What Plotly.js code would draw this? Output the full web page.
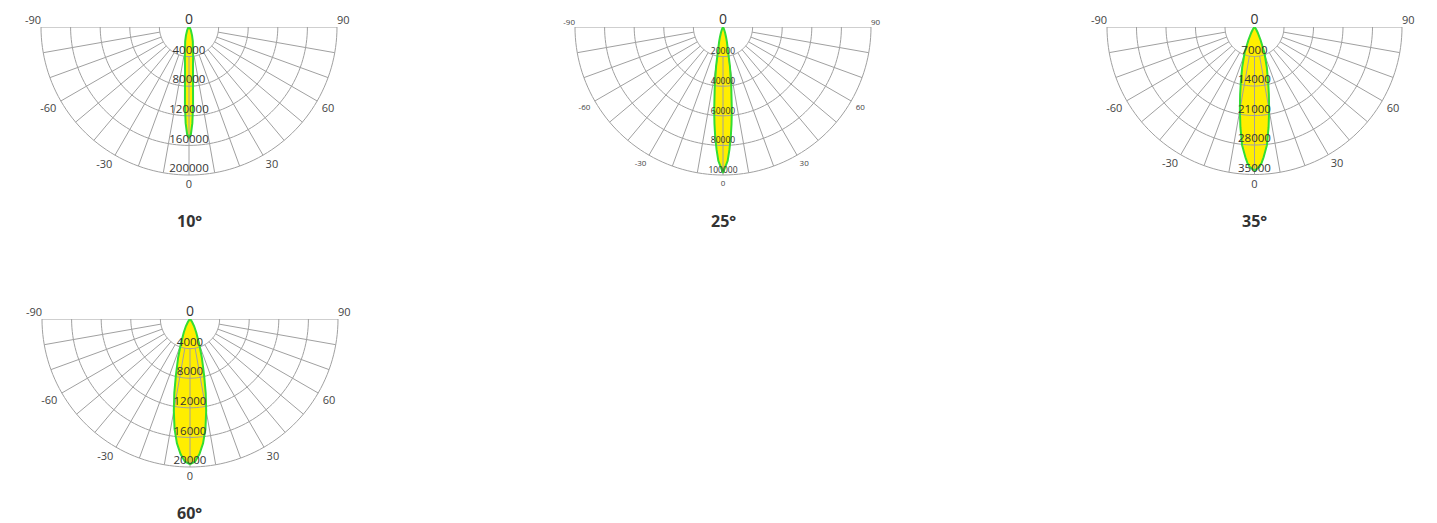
<!DOCTYPE html>
<html>
<head>
<meta charset="utf-8">
<script src="https://cdn.plot.ly/plotly-3.0.1.min.js"></script>
<style>html,body{margin:0;padding:0;background:#fff;}#chart{width:1437px;height:523px;}</style>
</head>
<body>
<div id="chart"></div>
<script>
// ---------- data ----------
const chartTitles = ['10°', '25°', '35°', '60°'];

const angleTicks = [-90, -60, -30, 0, 30, 60, 90];
const angleTickText = ['-90', '-60', '-30', '0', '30', '60', '90'];
const spokeAngles = [-80, -70, -60, -50, -40, -30, -20, -10, 0, 10, 20, 30, 40, 50, 60, 70, 80];

const rings10 = [40000, 80000, 120000, 160000, 200000];
const rings25 = [20000, 40000, 60000, 80000, 100000];
const rings35 = [7000, 14000, 21000, 28000, 35000];
const rings60 = [4000, 8000, 12000, 16000, 20000];

const theta10 = [-60, -50, -40, -30, -20, -15, -10, -8, -6, -5, -4, -3, -2, -1, 0, 1, 2, 3, 4, 5, 6, 8, 10, 15, 20, 30, 40, 50, 60];
const value10 = [0, 500, 2000, 5000, 12000, 20000, 31000, 40000, 52000, 62000, 78000, 105000, 130000, 145000, 149000, 145000, 130000, 105000, 78000, 62000, 52000, 40000, 31000, 20000, 12000, 5000, 2000, 500, 0];

const theta25 = [-40, -30, -25, -20, -17, -15, -12, -10, -8, -6, -5, -4, -3, -2, 0, 2, 3, 4, 5, 6, 8, 10, 12, 15, 17, 20, 25, 30, 40];
const value25 = [0, 500, 1500, 4000, 7000, 10000, 16000, 27000, 40000, 57000, 66000, 75000, 83000, 90500, 98600, 90500, 83000, 75000, 66000, 57000, 40000, 27000, 16000, 10000, 7000, 4000, 1500, 500, 0];

const theta35 = [-50, -40, -35, -30, -25, -21, -17, -14, -12, -10, -8, -6, -4, -3, -2, 0, 2, 3, 4, 6, 8, 10, 12, 14, 17, 21, 25, 30, 35, 40, 50];
const value35 = [0, 200, 600, 1500, 3400, 6600, 10000, 13400, 16400, 20000, 24000, 28200, 31000, 32300, 33200, 34100, 33200, 32300, 31000, 28200, 24000, 20000, 16400, 13400, 10000, 6600, 3400, 1500, 600, 200, 0];

const theta60 = [-50, -40, -35, -30, -25, -20, -17, -14, -12, -10, -8, -6, -4, -2, 0, 2, 4, 6, 8, 10, 12, 14, 17, 20, 25, 30, 35, 40, 50];
const value60 = [0, 200, 500, 1100, 2000, 3700, 5500, 7900, 10200, 12600, 15000, 16900, 18300, 19300, 19600, 19300, 18300, 16900, 15000, 12600, 10200, 7900, 5500, 3700, 2000, 1100, 500, 200, 0];

// ---------- build ----------
const charts = [
  {title: chartTitles[0], rings: rings10, theta: theta10, value: value10, font: 11.5, afont: 11},
  {title: chartTitles[1], rings: rings25, theta: theta25, value: value25, font: 8.5, afont: 8},
  {title: chartTitles[2], rings: rings35, theta: theta35, value: value35, font: 11.5, afont: 11},
  {title: chartTitles[3], rings: rings60, theta: theta60, value: value60, font: 11.5, afont: 11}
];

const W = 1437, H = 523;
// centre (top-middle) and radius of each half-disc, in pixels
const boxes = [
  {cx: 189, cy: 27, R: 148},
  {cx: 723, cy: 27, R: 148},
  {cx: 1254.5, cy: 27, R: 147.5},
  {cx: 190, cy: 319, R: 148}
];
const pad = 1.06;   // radial range head-room so the angle labels can sit outside the outer ring
const titleY = [221, 221, 221, 513];
const tickPos = ['top left', 'bottom left', 'bottom left', 'bottom center', 'bottom right', 'bottom right', 'top right'];

const gridColor = '#a0a0a0';
const fillColor = '#ffee00';
const lineColor = '#33dd33';
const textColor = '#333333';
const fontFam = 'Open Sans, Roboto, sans-serif';

const data = [];
const layout = {
  width: W, height: H,
  margin: {l: 0, r: 0, t: 0, b: 0},
  paper_bgcolor: '#ffffff',
  showlegend: false,
  annotations: []
};

charts.forEach((c, i) => {
  const sp = i === 0 ? 'polar' : 'polar' + (i + 1);
  const rmax = c.rings[c.rings.length - 1];
  const b = boxes[i];
  const Rp = b.R * pad;

  // lobe fill
  data.push({type: 'scatterpolar', subplot: sp, r: c.value, theta: c.theta, mode: 'lines',
    line: {color: 'rgba(0,0,0,0)', width: 0}, fill: 'toself', fillcolor: fillColor, hoverinfo: 'skip'});

  // spokes (start at first ring) + horizontal diameter
  const sr = [], st = [];
  spokeAngles.forEach(a => { sr.push(c.rings[0], rmax, null); st.push(a, a, null); });
  sr.push(rmax, 0, rmax); st.push(-90, -90, 90);
  data.push({type: 'scatterpolar', subplot: sp, r: sr, theta: st, mode: 'lines', connectgaps: false,
    line: {color: gridColor, width: 1}, cliponaxis: false, hoverinfo: 'skip'});

  // rings (including outer boundary)
  const rr = [], rt = [];
  c.rings.forEach(rv => {
    for (let a = -90; a <= 90; a += 2) { rr.push(rv); rt.push(a); }
    rr.push(null); rt.push(null);
  });
  data.push({type: 'scatterpolar', subplot: sp, r: rr, theta: rt, mode: 'lines', connectgaps: false,
    line: {color: gridColor, width: 1}, cliponaxis: false, hoverinfo: 'skip'});

  // lobe outline
  data.push({type: 'scatterpolar', subplot: sp, r: c.value, theta: c.theta, mode: 'lines',
    line: {color: lineColor, width: 2}, hoverinfo: 'skip'});

  // radial labels
  data.push({type: 'scatterpolar', subplot: sp, r: c.rings, theta: c.rings.map(() => 0), mode: 'text',
    text: c.rings.map(String), textposition: 'top center', cliponaxis: false,
    textfont: {size: c.font, color: textColor, family: fontFam}, hoverinfo: 'skip'});

  // angular labels
  data.push({type: 'scatterpolar', subplot: sp,
    r: angleTicks.map(a => Math.abs(a) === 90 ? rmax : rmax * 1.035), theta: angleTicks, mode: 'text',
    text: angleTickText, textposition: tickPos, cliponaxis: false,
    textfont: {size: c.afont, color: '#444444', family: fontFam}, hoverinfo: 'skip'});

  // top zero label
  data.push({type: 'scatterpolar', subplot: sp, r: [0], theta: [0], mode: 'text', text: ['0'],
    textposition: 'top center', cliponaxis: false,
    textfont: {size: 14, color: textColor, family: fontFam}, hoverinfo: 'skip'});

  layout[sp] = {
    domain: {x: [(b.cx - Rp) / W, (b.cx + Rp) / W], y: [1 - (b.cy + Rp) / H, 1 - b.cy / H]},
    sector: [180, 360],
    bgcolor: 'rgba(0,0,0,0)',
    radialaxis: {range: [0, rmax * pad], visible: false},
    angularaxis: {
      rotation: 270, direction: 'counterclockwise', thetaunit: 'degrees',
      showticklabels: false, ticks: '',
      showgrid: false, showline: false
    }
  };

  layout.annotations.push({
    text: c.title, xref: 'paper', yref: 'paper',
    x: b.cx / W, y: 1 - titleY[i] / H, xanchor: 'center', yanchor: 'middle',
    showarrow: false, font: {size: 16, color: textColor, family: fontFam, weight: 'bold'}
  });
});

Plotly.newPlot('chart', data, layout, {staticPlot: true, displayModeBar: false});
</script>
</body>
</html>
